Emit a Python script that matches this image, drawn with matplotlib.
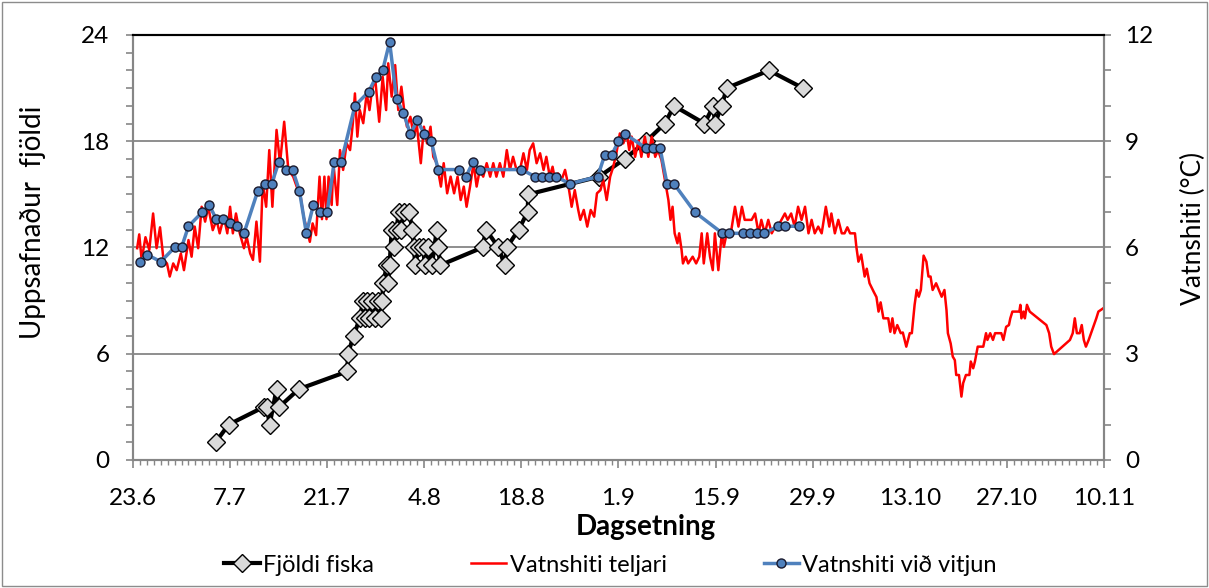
import matplotlib
matplotlib.use("Agg")
import matplotlib.pyplot as plt
from matplotlib.patches import Rectangle
from matplotlib.ticker import MultipleLocator

plt.rcParams['font.family'] = ['Lato', 'DejaVu Sans']

# x values are days counted from 23.6
tick_days = [0, 14, 28, 42, 56, 70, 84, 98, 112, 126, 140]
tick_labels = ["23.6", "7.7", "21.7", "4.8", "18.8", "1.9", "15.9", "29.9", "13.10", "27.10", "10.11"]

# Fjöldi fiska (left axis, cumulative count)
fish_days = [11.9, 13.8, 18.9, 19.3, 19.7, 20.7, 21.1, 23.9, 30.9, 31.0, 31.8, 32.7, 33.2, 33.5, 33.8,
             34.1, 34.5, 34.9, 35.3, 35.7, 35.9, 36.1, 36.6, 36.8, 37.0, 37.3, 37.6, 38.0, 38.3, 38.6,
             39.1, 39.8, 40.3, 40.5, 40.7, 41.2, 41.8, 42.1, 42.6, 43.1, 43.8, 44.0, 44.3, 50.4, 50.9,
             52.7, 53.6, 53.9, 55.6, 56.9, 57.0, 67.2, 70.9, 74.0, 76.7, 78.0, 82.4, 83.7, 83.9, 84.9,
             85.6, 91.7, 96.6]
fish_count = [1, 2, 3, 3, 2, 4, 3, 4, 5, 6, 7, 8, 9, 8, 9,
              8, 9, 8, 9, 8, 9, 10, 11, 10, 11, 13, 12, 13, 14, 13,
              14, 14, 13, 12, 11, 12, 12, 11, 12, 11, 13, 12, 11, 12, 13,
              12, 11, 12, 13, 14, 15, 16, 17, 18, 19, 20, 19, 20, 19, 20,
              21, 22, 21]

# Vatnshiti teljari (right axis, logger temperature)
logger_days = [0.6, 0.9, 1.25, 1.8, 2.35, 2.9, 3.4, 3.9, 4.4, 4.9, 5.3, 5.8, 6.3, 6.9, 7.35, 8.0,
               8.45, 8.9, 9.4, 9.9, 10.4, 10.85, 11.5, 12.05, 12.5, 13.1, 13.6, 14.0, 14.4, 14.85,
               15.4, 16.0, 16.4, 16.9, 17.3, 17.8, 18.3, 18.7, 19.2, 19.65, 20.1, 20.7, 21.2, 21.8,
               22.4, 23.1, 23.6, 24.1, 24.6, 25.1, 25.5, 25.9, 26.4, 26.9, 27.25, 27.6, 27.9, 28.2,
               28.65, 28.9, 29.45, 29.85, 30.3, 30.8, 31.3, 31.7, 32.0, 32.35, 32.7, 33.2, 33.7,
               34.1, 34.4, 34.9, 35.5, 36.0, 36.5, 36.8, 37.3, 37.8, 38.25, 38.7, 39.1, 39.5, 40.0,
               40.5, 40.9, 41.5, 41.95, 42.4, 42.9, 43.3, 43.8, 44.4, 44.8, 45.3, 45.8, 46.3, 46.8,
               47.25, 47.7, 48.1, 48.6, 49.1, 49.55, 50.0, 50.5, 51.0, 51.5, 51.95, 52.4, 52.9, 53.4,
               53.9, 54.35, 54.8, 55.3, 55.8, 56.3, 56.8, 57.2, 57.7, 58.2, 58.7, 59.2, 59.6, 60.1,
               60.5, 60.85, 61.3, 61.8, 62.3, 62.8, 63.25, 63.7, 64.2, 64.5, 65.0, 65.5, 66.0, 66.5,
               66.9, 67.4, 67.8, 68.3, 68.8, 69.25, 69.7, 70.2, 70.7, 71.2, 71.55, 71.9, 72.4, 72.9,
               73.3, 73.8, 74.3, 74.8, 75.3, 75.7, 76.2, 76.7, 77.2, 77.5, 77.8, 78.1, 78.5, 78.75,
               79.1, 79.3, 79.7, 80.05, 80.7, 81.2, 81.65, 82.0, 82.3, 82.8, 83.2, 83.6, 83.9, 84.4,
               84.9, 85.2, 85.6, 86.2, 86.8, 87.3, 87.8, 88.2, 89.2, 89.7, 90.2, 90.6, 91.1, 91.6,
               92.1, 92.6, 93.0, 93.5, 94.0, 94.4, 94.9, 95.4, 95.9, 96.4, 96.9, 97.4, 97.85, 98.3,
               98.8, 99.3, 99.9, 100.4, 100.7, 101.2, 101.7, 102.2, 102.6, 103.0, 103.4, 104.1,
               104.3, 104.6, 105.0, 105.5, 105.8, 106.2, 106.8, 107.2, 107.5, 107.8, 108.2, 108.9,
               109.2, 109.5, 109.8, 110.2, 110.7, 111.0, 111.5, 112.0, 112.3, 112.7, 113.0, 113.3,
               113.6, 114.0, 114.4, 114.7, 115.0, 115.3, 115.8, 116.2, 116.6, 117.0, 117.3, 117.5,
               117.9, 118.2, 118.5, 118.7, 119.1, 119.45, 119.7, 120.1, 120.6, 120.8, 121.15, 121.4,
               121.8, 122.6, 123.0, 123.2, 123.6, 124.0, 124.3, 125.2, 125.5, 125.9, 126.3, 126.5,
               126.8, 127.8, 127.95, 128.1, 128.4, 128.6, 128.9, 129.3, 131.7, 132.1, 132.4, 132.8,
               135.1, 135.5, 135.8, 136.1, 136.5, 136.8, 137.1, 137.4, 137.8, 138.9, 139.2, 140.1]
logger_temp = [5.98, 6.37, 5.65, 6.29, 5.93, 6.96, 5.98, 6.57, 5.65, 5.55, 5.18, 5.55, 5.36, 5.83, 5.36, 6.21,
               5.74, 6.59, 5.98, 7.15, 6.73, 7.15, 6.49, 6.78, 6.40, 6.87, 6.40, 7.15, 6.40, 6.96,
               6.40, 5.98, 6.30, 5.83, 5.65, 6.73, 5.60, 7.81, 7.15, 8.75, 7.15, 9.32, 8.38, 9.55,
               8.19, 8.00, 7.72, 7.53, 6.87, 6.49, 6.16, 6.68, 6.35, 8.00, 6.80, 8.00, 6.80, 8.00,
               7.20, 8.38, 7.20, 8.75, 8.19, 8.94, 8.75, 9.51, 10.35, 9.13, 9.88, 9.51, 10.35,
               9.88, 10.35, 10.82, 9.55, 10.82, 9.88, 11.20, 10.26, 11.15, 9.88, 10.54, 9.88, 9.41, 9.69,
               9.13, 9.51, 8.38, 9.41, 8.94, 9.41, 8.56, 8.38, 7.72, 8.38, 7.53, 8.00, 7.53, 8.00,
               7.34, 7.72, 7.15, 7.72, 8.38, 7.72, 8.19, 8.00, 8.38, 8.00, 8.38, 8.00, 8.38, 8.00,
               8.75, 8.19, 8.56, 8.19, 8.19, 8.66, 8.19, 8.75, 8.94, 8.38, 8.66, 8.19, 8.56, 8.00,
               8.28, 7.91, 8.09, 7.91, 8.19, 7.72, 7.15, 7.62, 7.06, 6.78, 7.06, 6.59, 7.06, 6.87,
               7.53, 7.62, 7.91, 7.34, 8.00, 8.28, 8.66, 9.22, 8.94, 9.22, 8.75, 9.13, 8.56, 9.03,
               8.56, 9.13, 8.56, 9.13, 8.56, 8.75, 8.47, 7.91, 7.34, 6.78, 7.15, 6.40, 6.12, 6.40,
               5.93, 5.55, 5.74, 5.55, 5.74, 5.55, 5.74, 6.40, 5.55, 6.40, 5.74, 5.36, 6.40, 5.36,
               6.40, 6.02, 6.40, 6.40, 7.15, 6.59, 7.15, 6.78, 6.78, 6.96, 6.40, 6.78, 6.40, 6.78,
               6.40, 6.59, 6.59, 6.78, 6.96, 6.78, 6.96, 6.59, 7.15, 6.78, 7.15, 6.40, 6.78, 6.40,
               6.59, 6.40, 7.15, 6.59, 6.96, 6.40, 6.78, 6.40, 6.40, 6.57, 6.40, 6.40,
               6.02, 5.60, 5.80, 5.18, 5.40, 4.99, 4.75, 4.60, 4.19, 4.45, 4.00, 4.00,
               3.62, 4.00, 3.58, 3.81, 3.58, 3.60, 3.20, 3.58, 3.58, 4.38, 4.80, 4.61,
               4.80, 5.77, 5.60, 5.18, 5.18, 4.80, 4.99, 4.80, 4.61, 4.80, 4.23, 3.58,
               3.29, 2.92, 2.82, 2.40, 2.40, 1.79, 2.17, 2.40, 2.40, 2.78, 2.59, 2.78,
               3.20, 3.20, 3.58, 3.39, 3.58, 3.39, 3.58, 3.58, 3.39, 3.76, 3.81, 4.00,
               4.19, 4.19, 4.38, 4.00, 4.19, 4.00, 4.38, 4.19, 3.81, 3.58, 3.20, 2.99,
               3.39, 3.58, 4.00, 3.58, 3.58, 3.81, 3.39, 3.20, 3.39, 4.00, 4.19, 4.31]

# Vatnshiti við vitjun (right axis, measured when checking)
visit_days = [1, 2, 4, 6, 7, 8, 10, 11, 12, 13, 14, 15, 16, 18, 19, 20, 21, 22, 23, 24, 25, 26,
              27, 28, 29, 30, 32, 34, 35, 36, 37, 38, 39, 40, 41, 42, 43, 44, 47, 48, 49, 50, 56,
              58, 59, 60, 61, 63, 67, 68, 69, 70, 71, 74, 75, 76, 77, 78, 81, 85, 86, 88, 89, 90,
              91, 93, 94, 96]
visit_temp = [5.6, 5.8, 5.6, 6.0, 6.0, 6.6, 7.0, 7.2, 6.8, 6.8, 6.7, 6.6, 6.4, 7.6, 7.8, 7.8, 8.4,
              8.2, 8.2, 7.6, 6.4, 7.2, 7.0, 7.0, 8.4, 8.4, 10.0, 10.4, 10.8, 11.0, 11.8, 10.2, 9.8,
              9.2, 9.6, 9.2, 9.0, 8.2, 8.2, 8.0, 8.4, 8.2, 8.2, 8.0, 8.0, 8.0, 8.0, 7.8, 8.0, 8.6,
              8.6, 9.0, 9.2, 8.8, 8.8, 8.8, 7.8, 7.8, 7.0, 6.4, 6.4, 6.4, 6.4, 6.4, 6.4, 6.6, 6.6,
              6.6]

axis_grey = "#868686"

fig = plt.figure(figsize=(12.09, 5.88), dpi=100)
ax = fig.add_axes([0.1100, 0.2177, 0.8031, 0.7228])
ax2 = ax.twinx()

# fish count on primary axis (drawn beneath the temperatures)
fish_line, = ax.plot(fish_days, fish_count, color="black", lw=3, marker="D", ms=9.5,
                     mfc="#d9d9d9", mec="black", mew=1, label="Fjöldi fiska")

logger_line, = ax2.plot(logger_days, logger_temp, color="#ff0000", lw=1.8, label="Vatnshiti teljari")
visit_line, = ax2.plot(visit_days, visit_temp, color="#4f81bd", lw=2.5, marker="o", ms=6.5,
                       mfc="#4f81bd", mec="#1a1a2e", mew=1, label="Vatnshiti við vitjun")

ax.set_xlim(0, 140)
ax.set_ylim(0, 24)
ax2.set_ylim(0, 12)

ax.set_xticks(tick_days)
ax.set_xticklabels(tick_labels)
ax.xaxis.set_minor_locator(MultipleLocator(1))
ax.set_yticks([0, 6, 12, 18, 24])
ax.yaxis.set_minor_locator(MultipleLocator(1))
ax2.set_yticks([0, 3, 6, 9, 12])
ax2.yaxis.set_minor_locator(MultipleLocator(1))

ax.grid(axis="y", color=axis_grey, lw=1.3)
ax.set_axisbelow(True)

ax.tick_params(axis="x", which="major", length=6, width=1.2, color=axis_grey, pad=14, labelsize=17.5)
ax.tick_params(axis="x", which="minor", length=3.5, width=1, color=axis_grey)
ax.tick_params(axis="y", which="both", length=5, width=1.2, color=axis_grey, pad=12, labelsize=17.5)
ax2.tick_params(axis="y", which="both", length=5, width=1.2, color=axis_grey, pad=10, labelsize=17.5)

for a in (ax, ax2):
    for side in ("left", "right", "bottom"):
        a.spines[side].set_color(axis_grey)
        a.spines[side].set_linewidth(1.5)
    a.spines["top"].set_color("black")
    a.spines["top"].set_linewidth(1.5)

ax.set_xlabel("Dagsetning", fontsize=20, fontweight="bold")
ax.xaxis.set_label_coords(0.528, -0.128)
ax.set_ylabel("Uppsafnaður  fjöldi", fontsize=20)
ax.yaxis.set_label_coords(-0.090, 0.56)
ax2.set_ylabel("Vatnshiti (°C)", fontsize=19)
ax2.yaxis.set_label_coords(1.079, 0.545)

fig.legend([fish_line, logger_line, visit_line],
           ["Fjöldi fiska", "Vatnshiti teljari", "Vatnshiti við vitjun"],
           loc="center", bbox_to_anchor=(0.505, 0.039), ncol=3, frameon=False,
           fontsize=17, handlelength=1.5, handletextpad=0.15, columnspacing=4.1)

# chart area border
fig.patches.append(Rectangle((0.002, 0.003), 0.996, 0.994, transform=fig.transFigure,
                             fill=False, edgecolor="#8c8c8c", lw=1))

fig.savefig("out.png", dpi=100)
